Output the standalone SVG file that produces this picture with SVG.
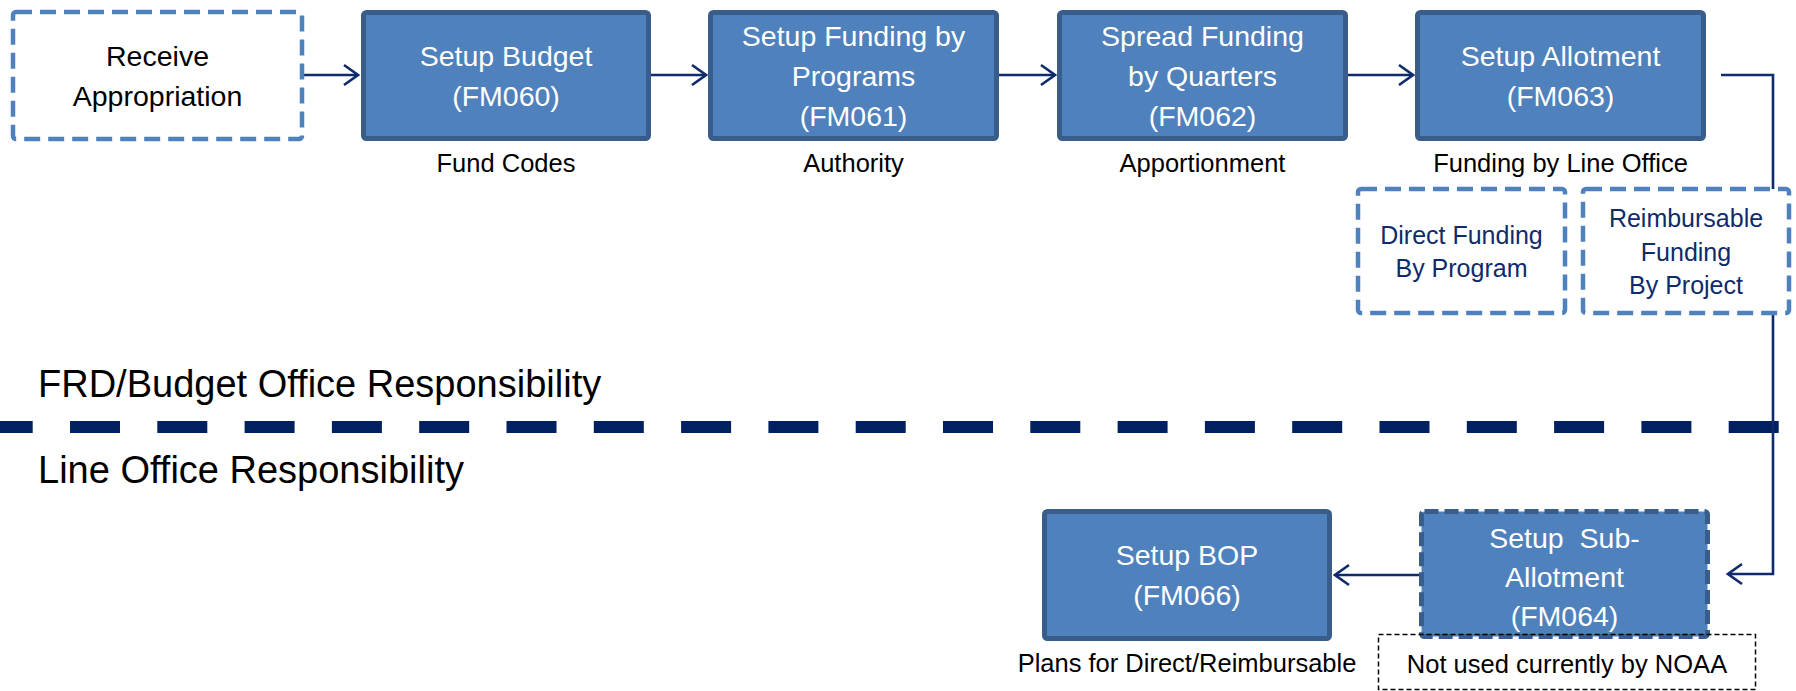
<svg xmlns="http://www.w3.org/2000/svg" width="1796" height="691" viewBox="0 0 1796 691">
  <style>
    text { font-family: "Liberation Sans", Arial, sans-serif; text-anchor: middle; }
    .box { fill: #4f81bd; stroke: #385d8a; stroke-width: 5; }
    .subbox { fill: #4f81bd; stroke: #385d8a; stroke-width: 5; stroke-dasharray: 14 6; }
    .dbox { fill: #ffffff; stroke: #4f81bd; stroke-width: 4.5; stroke-dasharray: 16 8; }
    .note { fill: none; stroke: #000000; stroke-width: 1.5; stroke-dasharray: 5 3; }
    .wt { fill: #ffffff; font-size: 28.5px; }
    .bt { fill: #000000; font-size: 28.5px; }
    .lbl { fill: #000000; font-size: 25.5px; }
    .nv { fill: #0f2b6b; font-size: 25px; }
    .sec { fill: #000000; font-size: 38px; text-anchor: start; }
    .conn { fill: none; stroke: #0f2b6b; stroke-width: 2.6; marker-end: url(#arr); }
  </style>
  <defs>
    <marker id="arr" markerUnits="userSpaceOnUse" viewBox="-17 -13 19 26" markerWidth="19" markerHeight="26" refX="0" refY="0" orient="auto">
      <path d="M-14,-10 L0,0 L-14,10" fill="none" stroke="#0f2b6b" stroke-width="2.6"/>
    </marker>
  </defs>

  <g id="separator">
    <line x1="-17.3" y1="427" x2="1779" y2="427" stroke="#002060" stroke-width="12" stroke-dasharray="50 37.3"/>
    <text class="sec" x="38" y="397">FRD/Budget Office Responsibility</text>
    <text class="sec" x="38" y="483">Line Office Responsibility</text>
  </g>

  <g id="connectors">
    <line class="conn" x1="304" y1="75" x2="358" y2="75"/>
    <line class="conn" x1="651" y1="75" x2="706" y2="75"/>
    <line class="conn" x1="999" y1="75" x2="1055" y2="75"/>
    <line class="conn" x1="1348" y1="75" x2="1413" y2="75"/>
    <path class="conn" d="M1721,75 H1773 V574 H1728"/>
    <line class="conn" x1="1419" y1="575" x2="1335" y2="575"/>
  </g>

  <g id="receive">
    <rect class="dbox" x="13" y="12" width="289" height="127" rx="3"/>
    <text class="bt" x="157.5" y="66">Receive</text>
    <text class="bt" x="157.5" y="106">Appropriation</text>
  </g>

  <g id="fm060">
    <rect class="box" x="363.5" y="12.5" width="285" height="126" rx="3"/>
    <text class="wt" x="506" y="66">Setup Budget</text>
    <text class="wt" x="506" y="106">(FM060)</text>
    <text class="lbl" x="506" y="172">Fund Codes</text>
  </g>

  <g id="fm061">
    <rect class="box" x="710.5" y="12.5" width="286" height="126" rx="3"/>
    <text class="wt" x="853.5" y="46">Setup Funding by</text>
    <text class="wt" x="853.5" y="86">Programs</text>
    <text class="wt" x="853.5" y="126">(FM061)</text>
    <text class="lbl" x="853.5" y="172">Authority</text>
  </g>

  <g id="fm062">
    <rect class="box" x="1059.5" y="12.5" width="286" height="126" rx="3"/>
    <text class="wt" x="1202.5" y="46">Spread Funding</text>
    <text class="wt" x="1202.5" y="86">by Quarters</text>
    <text class="wt" x="1202.5" y="126">(FM062)</text>
    <text class="lbl" x="1202.5" y="172">Apportionment</text>
  </g>

  <g id="fm063">
    <rect class="box" x="1417.5" y="12.5" width="286" height="126" rx="3"/>
    <text class="wt" x="1560.5" y="66">Setup Allotment</text>
    <text class="wt" x="1560.5" y="106">(FM063)</text>
    <text class="lbl" x="1560.5" y="172">Funding by Line Office</text>
  </g>

  <g id="direct">
    <rect class="dbox" x="1358" y="189" width="207" height="124" rx="3"/>
    <text class="nv" x="1461.5" y="244">Direct Funding</text>
    <text class="nv" x="1461.5" y="277">By Program</text>
  </g>

  <g id="reimbursable">
    <rect class="dbox" x="1583" y="189" width="206" height="124" rx="3"/>
    <text class="nv" x="1686" y="227">Reimbursable</text>
    <text class="nv" x="1686" y="261">Funding</text>
    <text class="nv" x="1686" y="294">By Project</text>
  </g>

  <g id="fm064">
    <rect class="subbox" x="1421.5" y="511.5" width="286" height="125" rx="3"/>
    <text class="wt" x="1564.5" y="548" xml:space="preserve">Setup  Sub-</text>
    <text class="wt" x="1564.5" y="587">Allotment</text>
    <text class="wt" x="1564.5" y="626">(FM064)</text>
  </g>

  <g id="note">
    <rect class="note" x="1378.5" y="634.5" width="377" height="55"/>
    <text class="lbl" x="1567" y="673">Not used currently by NOAA</text>
  </g>

  <g id="fm066">
    <rect class="box" x="1044.5" y="511.5" width="285" height="127" rx="3"/>
    <text class="wt" x="1187" y="565">Setup BOP</text>
    <text class="wt" x="1187" y="605">(FM066)</text>
    <text class="lbl" x="1187" y="672">Plans for Direct/Reimbursable</text>
  </g>
</svg>
